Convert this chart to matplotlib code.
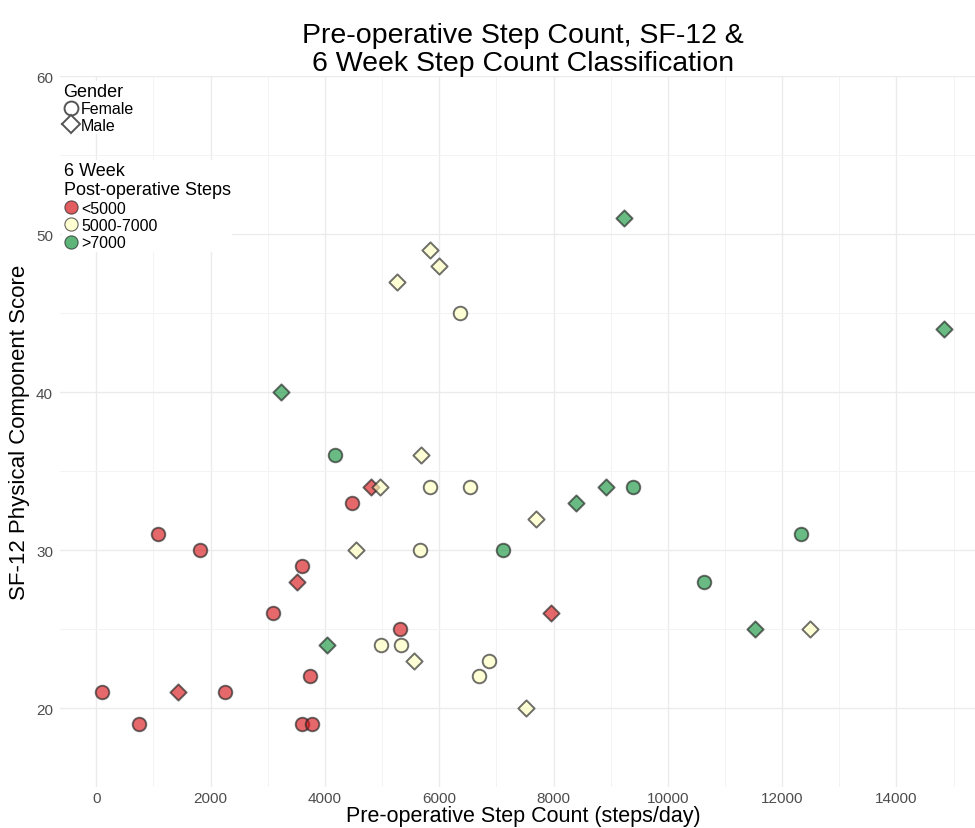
import numpy as np
import matplotlib
matplotlib.use("Agg")
import matplotlib.pyplot as plt
from matplotlib.lines import Line2D

plt.rcParams['font.family'] = ['Liberation Sans', 'DejaVu Sans']

# pre-op steps/day, SF-12 PCS, gender, 6 week group
steps = [100, 748, 1072, 1820, 2252, 3091, 3599, 3599, 3774, 3739, 4473, 5313,
         1430, 3511, 4806, 7955,
         6363, 5838, 6538, 5663, 4981, 5331, 6870, 6695,
         5838, 5990, 5255, 5681, 4963, 7692, 4543, 5558, 7512, 12491,
         4176, 7115, 9389, 12334, 10626,
         9227, 14830, 3231, 8387, 8917, 4036, 11524]
pcs = [21, 19, 31, 30, 21, 26, 29, 19, 19, 22, 33, 25,
       21, 28, 34, 26,
       45, 34, 34, 30, 24, 24, 23, 22,
       49, 48, 47, 36, 34, 32, 30, 23, 20, 25,
       36, 30, 34, 31, 28,
       51, 44, 40, 33, 34, 24, 25]
gender = (['Female'] * 12 + ['Male'] * 4 +
          ['Female'] * 8 + ['Male'] * 10 +
          ['Female'] * 5 + ['Male'] * 7)
group = (['<5000'] * 16 + ['5000-7000'] * 18 + ['>7000'] * 12)

groups = ['<5000', '5000-7000', '>7000']
group_colors = {'<5000': '#D7191C', '5000-7000': '#FFFFBF', '>7000': '#1A9641'}
genders = ['Female', 'Male']
gender_markers = {'Female': 'o', 'Male': 'D'}
gender_sizes = {'Female': 95, 'Male': 68}

steps = np.array(steps)
pcs = np.array(pcs)
gender = np.array(gender)
group = np.array(group)

fig = plt.figure(figsize=(9.75, 8.29), dpi=100)
ax = fig.add_axes([59.9 / 975, 1 - 788 / 829, (986 - 59.9) / 975, (788 - 77.3) / 829])

for g in groups:
    for s in genders:
        m = (group == g) & (gender == s)
        ax.scatter(steps[m], pcs[m], s=gender_sizes[s], marker=gender_markers[s],
                   facecolor=group_colors[g], edgecolor='#222222', linewidth=1.4,
                   alpha=0.65, zorder=3)

ax.set_xlim(-636, 15566)
ax.set_ylim(15, 60)
ax.set_xticks(np.arange(0, 15000, 2000))
ax.set_xticks(np.arange(1000, 16000, 2000), minor=True)
ax.set_yticks([20, 30, 40, 50, 60])
ax.set_yticks([15, 25, 35, 45, 55], minor=True)
ax.grid(which='major', color='#EBEBEB', linewidth=1.0)
ax.grid(which='minor', color='#F3F3F3', linewidth=0.7)
ax.set_axisbelow(True)
for sp in ax.spines.values():
    sp.set_visible(False)
ax.tick_params(which='both', length=0, labelsize=11, labelcolor='#4D4D4D', pad=5)
ax.tick_params(axis='x', pad=3)

ax.set_xlabel('Pre-operative Step Count (steps/day)', fontsize=15.5, labelpad=0)
ax.set_ylabel('SF-12 Physical Component Score', fontsize=16, labelpad=4)
ax.set_title('Pre-operative Step Count, SF-12 &\n6 Week Step Count Classification',
             fontsize=20.5, pad=4, linespacing=1.1)

shape_handles = [Line2D([], [], linestyle='none', marker=gender_markers[s],
                        markersize=10 if s == 'Female' else 9,
                        markerfacecolor='white', markeredgecolor='#555555',
                        markeredgewidth=1.4) for s in genders]
leg1 = fig.legend(shape_handles, genders, title='Gender', loc='upper left',
                  bbox_to_anchor=(62 / 975, 1 - 82 / 829), frameon=True,
                  facecolor='white', edgecolor='none', framealpha=1,
                  fontsize=11.5, title_fontsize=13, alignment='left',
                  handlelength=0.9, handletextpad=0.2, labelspacing=0.1,
                  borderpad=0.1, borderaxespad=0)

color_handles = [Line2D([], [], linestyle='none', marker='o', markersize=9.5,
                        markerfacecolor=group_colors[g], markeredgecolor='#222222',
                        markeredgewidth=0.8, alpha=0.7) for g in groups]
leg2 = fig.legend(color_handles, groups, title='6 Week\nPost-operative Steps',
                  loc='upper left', bbox_to_anchor=(62 / 975, 1 - 161 / 829),
                  frameon=True, facecolor='white', edgecolor='none', framealpha=1,
                  fontsize=11.5, title_fontsize=13, alignment='left',
                  handlelength=0.9, handletextpad=0.2, labelspacing=0.15,
                  borderpad=0.1, borderaxespad=0)
fig.add_artist(leg1)

fig.savefig('out.png', dpi=100)
